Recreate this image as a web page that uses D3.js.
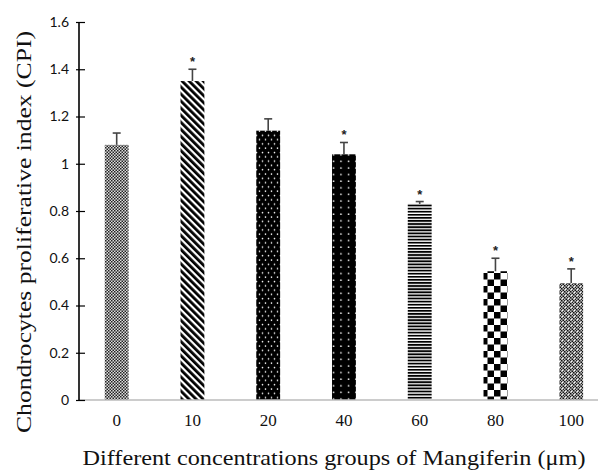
<!DOCTYPE html>
<html>
<head>
<meta charset="utf-8">
<script src="https://cdn.jsdelivr.net/npm/d3@7"></script>
<style>
  body { margin: 0; background: #fff; }
  svg { display: block; }
  .ytick text { font-family: Lato, "Open Sans", sans-serif; font-size: 14px; fill: #111; }
  .xtick text { font-family: "Liberation Serif", serif; font-size: 17px; fill: #111; }
  .title { font-family: "Liberation Serif", "Times New Roman", serif; font-size: 21px; fill: #111; }
</style>
</head>
<body>
<script>
// concentration groups (μm)
var groups = ["0", "10", "20", "40", "60", "80", "100"];
var cpi = [1.08, 1.35, 1.14, 1.04, 0.83, 0.545, 0.495];
var sd = [0.05, 0.05, 0.05, 0.05, 0.01, 0.055, 0.06];
var significant = [false, true, false, true, true, true, true];
var yTicks = [0, 0.2, 0.4, 0.6, 0.8, 1, 1.2, 1.4, 1.6];

var width = 598, height = 475;
var mLeft = 79, mTop = 22, mBottom = 400;

var svg = d3.select("body").append("svg")
    .attr("width", width)
    .attr("height", height);

var defs = svg.append("defs");

// 0 : fine checker
var p0 = defs.append("pattern").attr("id", "p0").attr("patternUnits", "userSpaceOnUse")
    .attr("width", 3).attr("height", 3);
p0.append("rect").attr("width", 3).attr("height", 3).attr("fill", "#ddd");
p0.append("rect").attr("width", 1.5).attr("height", 1.5).attr("fill", "#222");
p0.append("rect").attr("x", 1.5).attr("y", 1.5).attr("width", 1.5).attr("height", 1.5).attr("fill", "#222");

// 10 : diagonal stripes
var p1 = defs.append("pattern").attr("id", "p1").attr("patternUnits", "userSpaceOnUse")
    .attr("width", 5).attr("height", 5).attr("patternTransform", "rotate(-45)");
p1.append("rect").attr("width", 5).attr("height", 5).attr("fill", "#fff");
p1.append("rect").attr("width", 2.8).attr("height", 5).attr("fill", "#000");

// 20 : black with dense white dots
var p2 = defs.append("pattern").attr("id", "p2").attr("patternUnits", "userSpaceOnUse")
    .attr("width", 6).attr("height", 8.6);
p2.append("rect").attr("width", 6).attr("height", 8.6).attr("fill", "#000");
p2.append("circle").attr("cx", 1.5).attr("cy", 2).attr("r", 0.8).attr("fill", "#fff");
p2.append("circle").attr("cx", 4.5).attr("cy", 6.3).attr("r", 0.8).attr("fill", "#fff");

// 40 : black with sparse white dots
var p3 = defs.append("pattern").attr("id", "p3").attr("patternUnits", "userSpaceOnUse")
    .attr("width", 7.5).attr("height", 6.6);
p3.append("rect").attr("width", 7.5).attr("height", 6.6).attr("fill", "#000");
p3.append("circle").attr("cx", 3.5).attr("cy", 3).attr("r", 0.8).attr("fill", "#fff");

// 60 : horizontal stripes
var p4 = defs.append("pattern").attr("id", "p4").attr("patternUnits", "userSpaceOnUse")
    .attr("width", 4).attr("height", 3.1);
p4.append("rect").attr("width", 4).attr("height", 3.1).attr("fill", "#fff");
p4.append("rect").attr("width", 4).attr("height", 1.8).attr("fill", "#000");

// 80 : large checkerboard
var p5 = defs.append("pattern").attr("id", "p5").attr("patternUnits", "userSpaceOnUse")
    .attr("width", 13).attr("height", 13);
p5.append("rect").attr("width", 13).attr("height", 13).attr("fill", "#fff");
p5.append("rect").attr("width", 6.5).attr("height", 6.5).attr("fill", "#000");
p5.append("rect").attr("x", 6.5).attr("y", 6.5).attr("width", 6.5).attr("height", 6.5).attr("fill", "#000");

// 100 : fine dark checker with white dots
var p6 = defs.append("pattern").attr("id", "p6").attr("patternUnits", "userSpaceOnUse")
    .attr("width", 6).attr("height", 6);
p6.append("rect").attr("width", 6).attr("height", 6).attr("fill", "#bbb");
for (var i = 0; i < 4; i++) {
  for (var j = 0; j < 4; j++) {
    if ((i + j) % 2 == 0) {
      p6.append("rect").attr("x", i * 1.5).attr("y", j * 1.5)
        .attr("width", 1.5).attr("height", 1.5).attr("fill", "#111");
    }
  }
}
p6.append("circle").attr("cx", 1.5).attr("cy", 1.5).attr("r", 0.9).attr("fill", "#fff");
p6.append("circle").attr("cx", 4.5).attr("cy", 4.5).attr("r", 0.9).attr("fill", "#fff");

var fills = ["p0", "p1", "p2", "p3", "p4", "p5", "p6"];

var x = d3.scaleBand()
    .domain(groups)
    .range([mLeft, mLeft + 7 * 75.7])
    .paddingInner(0.685)
    .paddingOuter(0.34);

var y = d3.scaleLinear()
    .domain([0, 1.6])
    .range([mBottom, mTop]);

// bars
svg.append("g").selectAll("rect")
    .data(groups)
  .enter().append("rect")
    .attr("x", d => x(d))
    .attr("width", x.bandwidth())
    .attr("y", (d, i) => y(cpi[i]))
    .attr("height", (d, i) => y(0) - y(cpi[i]))
    .attr("fill", (d, i) => "url(#" + fills[i] + ")");

// error bars + significance stars
var err = svg.append("g").attr("stroke", "#444").attr("stroke-width", 1.6);
groups.forEach(function(d, i) {
  var cx = x(d) + x.bandwidth() / 2;
  err.append("line")
    .attr("x1", cx).attr("x2", cx)
    .attr("y1", y(cpi[i])).attr("y2", y(cpi[i] + sd[i]));
  err.append("line")
    .attr("x1", cx - 4).attr("x2", cx + 4)
    .attr("y1", y(cpi[i] + sd[i])).attr("y2", y(cpi[i] + sd[i]));
  if (significant[i]) {
    svg.append("text")
      .attr("x", cx)
      .attr("y", y(cpi[i] + sd[i]) - 3)
      .attr("text-anchor", "middle")
      .style("font-family", "Liberation Sans, sans-serif")
      .style("font-size", "13px")
      .style("font-weight", "bold")
      .attr("fill", "#222")
      .text("*");
  }
});

// x axis line (gray)
svg.append("line")
    .attr("x1", mLeft).attr("x2", width)
    .attr("y1", mBottom).attr("y2", mBottom)
    .attr("stroke", "#bbb").attr("stroke-width", 1.5);

// x tick labels
svg.append("g").attr("class", "xtick")
  .selectAll("text").data(groups)
  .enter().append("text")
    .attr("x", d => x(d) + x.bandwidth() / 2)
    .attr("y", 426)
    .attr("text-anchor", "middle")
    .text(d => d);

// y axis
var yAxis = d3.axisLeft(y)
    .tickValues(yTicks)
    .tickSize(3)
    .tickFormat(d => d3.format("")(d));

var ya = svg.append("g")
    .attr("class", "ytick")
    .attr("transform", "translate(" + mLeft + ",0)")
    .call(yAxis);
ya.select(".domain").attr("stroke", "#000").attr("stroke-width", 1.6)
    .attr("d", "M0," + mTop + "V" + mBottom);
ya.selectAll(".tick line").attr("stroke", "#000").attr("stroke-width", 1.2)
    .attr("x1", 6);
ya.selectAll(".tick text").attr("x", -10);

// titles
svg.append("text")
    .attr("class", "title")
    .attr("transform", "translate(31,232) rotate(-90)")
    .attr("text-anchor", "middle")
    .attr("textLength", 402)
    .attr("lengthAdjust", "spacingAndGlyphs")
    .text("Chondrocytes proliferative index (CPI)");

svg.append("text")
    .attr("class", "title")
    .attr("x", 334)
    .attr("y", 465)
    .attr("text-anchor", "middle")
    .attr("textLength", 503)
    .attr("lengthAdjust", "spacingAndGlyphs")
    .text("Different concentrations groups of Mangiferin (μm)");
</script>
</body>
</html>
